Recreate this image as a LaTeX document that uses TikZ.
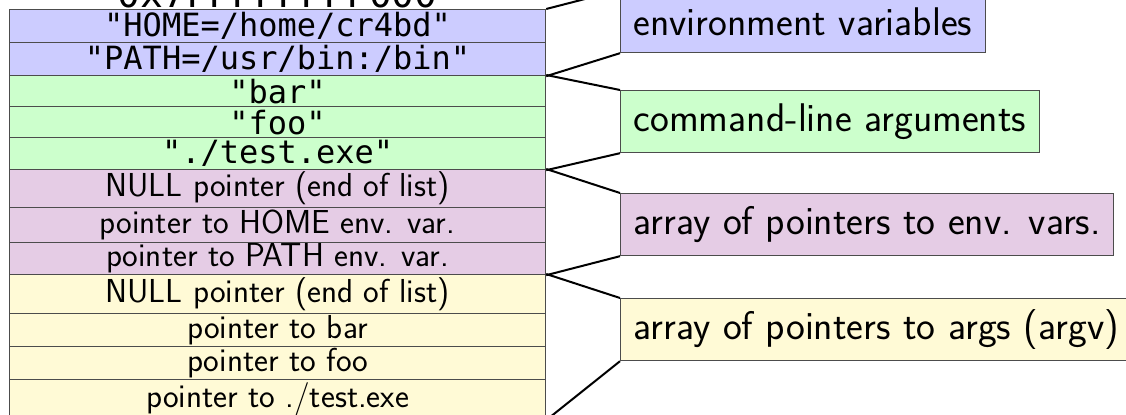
\documentclass[tikz,border=0pt]{standalone}
\usepackage{fontspec}
\newfontfamily\codefont{DejaVu Sans Mono}
\usepackage{xcolor}
\usetikzlibrary{positioning}
\definecolor{envblue}{RGB}{204,204,255}
\definecolor{arggreen}{RGB}{204,255,204}
\definecolor{envptrpink}{RGB}{229,204,229}
\definecolor{argptryellow}{RGB}{255,250,214}
\tikzstyle{cell}=[rectangle,draw=black!70,line width=0.6pt,anchor=north west,minimum width=268pt,inner sep=0pt]
\tikzstyle{region}=[rectangle,draw=black!70,line width=0.6pt,anchor=north west,minimum height=31pt,inner xsep=6.5pt,font=\fontsize{20}{24}\selectfont\sffamily]
\tikzstyle{brace}=[draw,line width=1pt]
\tikzstyle{addr}=[inner sep=0pt,anchor=base,font=\fontsize{19}{23}\selectfont\codefont]
\newcommand{\code}[1]{{\fontsize{16}{19}\selectfont\codefont #1}}
\newcommand{\desc}[1]{{\fontsize{16.6}{20}\selectfont\sffamily #1}}

\begin{document}
\begin{tikzpicture}[x=0.5pt,y=-0.5pt]
    \useasboundingbox (0,0) rectangle (1126,415);
    \clip (0,0) rectangle (1126,415);
    % the stack, top to bottom
    \foreach \rowy/\rowh/\name/\fc/\txt in {{9/33/envhome/envblue/{\code{"HOME=/home/cr4bd"}}},
    {42/33/envpath/envblue/{\code{"PATH=/usr/bin:/bin"}}},
    {75/31/argbar/arggreen/{\code{"bar"}}}, {106/31/argfoo/arggreen/{\code{"foo"}}},
    {137/32/argexe/arggreen/{\code{"./test.exe"}}},
    {169/38/envnull/envptrpink/{\desc{NULL pointer (end of list)}}},
    {207/35/envptrhome/envptrpink/{\desc{pointer to HOME env. var.}}},
    {242/32/envptrpath/envptrpink/{\desc{pointer to PATH env. var.}}},
    {274/39/argnull/argptryellow/{\desc{NULL pointer (end of list)}}},
    {313/33/argptrbar/argptryellow/{\desc{pointer to bar}}},
    {346/33/argptrfoo/argptryellow/{\desc{pointer to foo}}},
    {379/40/argptrexe/argptryellow/{\desc{pointer to ./test.exe}}}}
        \node[cell,fill=\fc,minimum height=\rowh*0.5pt] (\name) at (9,\rowy) {\txt};
    \node[addr] (stacktop) at ([yshift=0.8pt]envhome.north) {0x7FFFFFFFF000};

    % what each part holds
    \foreach \pos/\name/\fc/\txt in {{(620,-10)/envlbl/envblue/{environment variables}},
    {(620,90)/arglbl/arggreen/{command-line arguments}},
    {(620,193)/envptrlbl/envptrpink/{array of pointers to env. vars.}},
    {(620,298)/argptrlbl/argptryellow/{array of pointers to args (argv)}}}
        \node[region,fill=\fc] (\name) at \pos {\txt};

    \foreach \source/\dest in {envhome.north east/envlbl.north west, envpath.south east/envlbl.south west,
    argbar.north east/arglbl.north west, argexe.south east/arglbl.south west,
    envnull.north east/envptrlbl.north west, envptrpath.south east/envptrlbl.south west,
    argnull.north east/argptrlbl.north west, argptrexe.south east/argptrlbl.south west}
        \path[brace] (\source) -- (\dest);
\end{tikzpicture}
\end{document}
